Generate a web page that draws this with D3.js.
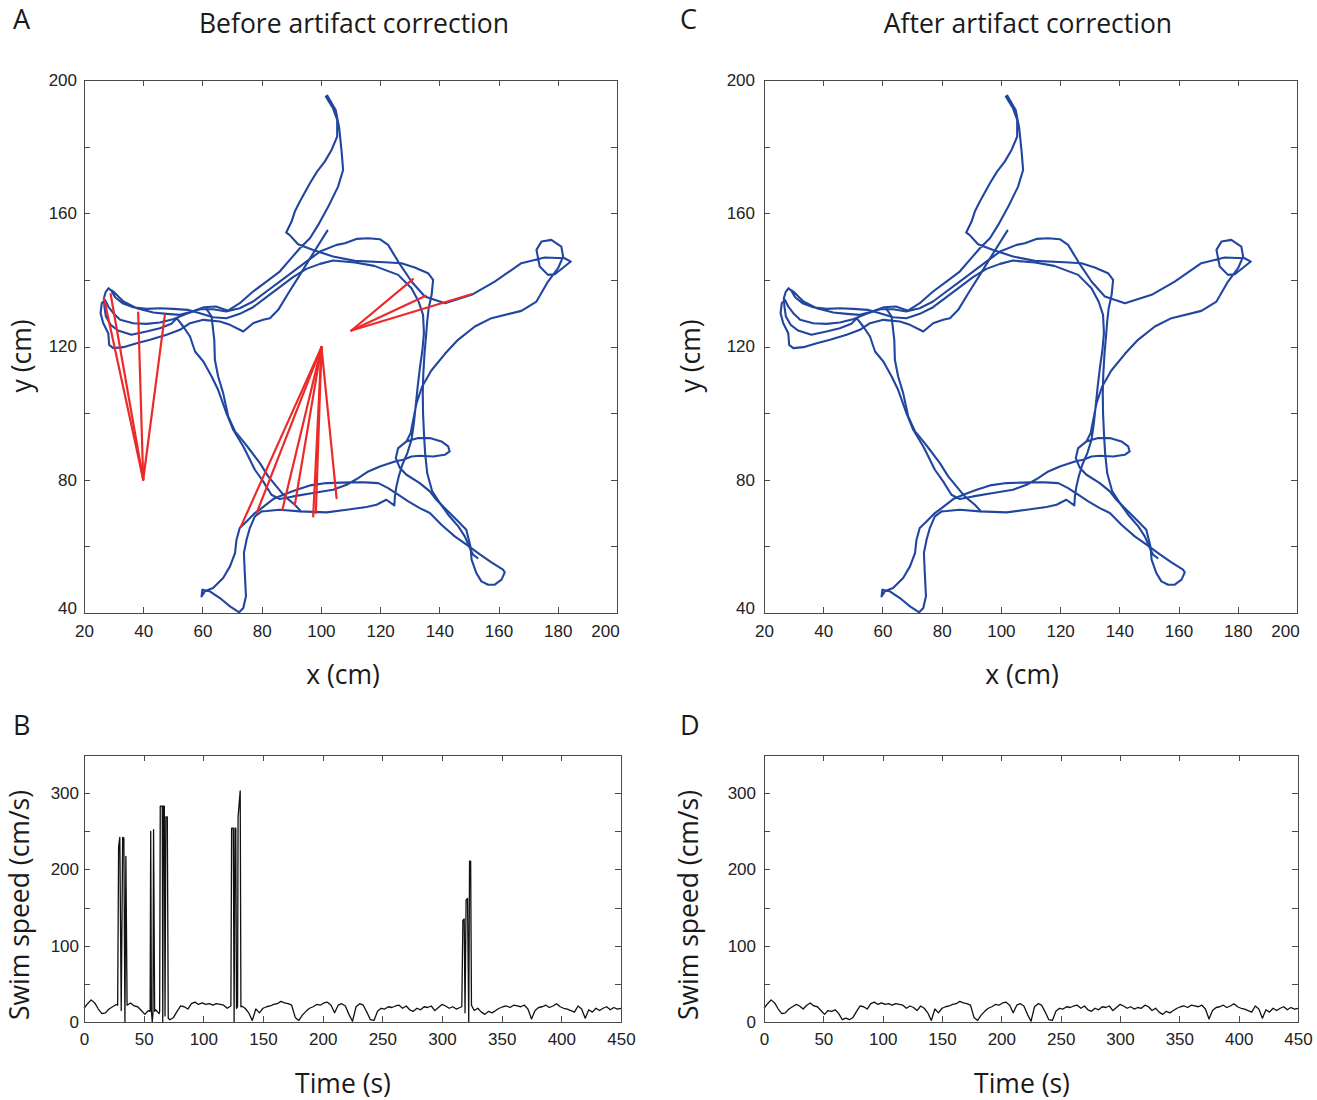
<!DOCTYPE html>
<html>
<head>
<meta charset="utf-8">
<script src="https://cdn.jsdelivr.net/npm/d3@7"></script>
<style>
  body { margin: 0; background: #fff; }
  svg { display: block; }
  .tick text { font-family: "Liberation Sans", Arial, sans-serif; font-size: 17px; fill: #222; }
  .lbl { font-family: "Open Sans", sans-serif; fill: #1a1a1a; }
</style>
</head>
<body>
<svg id="fig" width="1317" height="1100"></svg>
<script>
// ---------------- Swim path (x, y in cm) ----------------
// Outbound run: bottom-right stub, up the right side of the ring, top arm and back into the west cluster
const trackOut = [
  [152.9,56.5],[151.4,57.5],[150.3,59.5],[148.6,63],[146.4,66],[143,69.5],[140.2,73],[137.6,76.5],[135.9,82],
  [135.2,88],[134.8,94],[134.5,100],[134.4,106],[134.6,112],[135,118],[135.5,123],[135.9,127.5],[136.4,131.5],
  [137.4,135.5],[137.9,140],[136.2,142],[131.7,143.7],[127.2,145],[121.6,145.3],[111.5,145.7],[104.1,147],
  [97.4,149],[92.3,150.7],[89.4,153.5],[88.3,154.2],[90.1,157.5],[91.2,160.5],[92.9,163.5],[96.3,169],
  [98.7,172.5],[101.3,175.5],[103.6,179],[105.5,183],[105.5,188],[104.1,191.5],[101.7,195.0],[102.2,195.3],
  [105,191],[106.2,185.5],[107,178.5],[107.5,173],[105.8,168],[102.5,162],[99.1,156.5],[96.3,152.5],
  [92.9,149.5],[89.5,146],[86.1,142.5],[81.6,139.5],[77.1,136.5],[72.6,133],[68.1,130.5],[63.6,131.2],
  [59.1,131.2],[54.6,129.8],[50.1,128.2],[45.6,127.2],[41.1,126.8],[36.6,127],[32.2,128],[29.9,130],
  [28.2,132],[27.1,134],[26,133],[25.6,130],[26.5,127],[28.2,124],[28.5,120.5],[29.9,119.5],[33.3,119.8],
  [37.8,121],[42.3,122],[47.9,123.5],[52.4,125],[55.8,127],[60.3,128],[65.9,127.5],[69.3,126.5],[73.8,124.5],
  [77.1,127],[80.5,128],[82.8,128.5],[85.6,131],[89,136],[92.9,141.5],[97.4,148],[102.2,154.8]
];

// Long run: west cluster, north rim, east arm with its small loop, back through the ring,
// SE arm, SW arm, ring bottom, and the small loop east of the centre
const trackLoop = [
  [28.5,137.2],[29.9,136.5],[33.3,133.5],[37.8,131.5],[43.4,130.2],[48,129.8],[52.4,129.5],[56.5,130.5],
  [60.5,131.8],[64.5,132],[68.7,130.7],[72.6,131.5],[77.1,133.5],[81.6,136.5],[86.1,139.5],[90.6,142.5],
  [95.1,145.5],[99.7,148.5],[105.3,150.5],[108.1,151],[112,152.3],[116,152.5],[119.9,152.2],[122.7,150.5],
  [126.1,145.5],[130.6,139.5],[135.1,135],[141.9,133],[150.9,135.5],[158.7,139.5],[167.7,145],[175.6,146.7],
  [182.3,146.5],[184.4,145.5],[182.3,144],[179,141.7],[176.7,141.5],[173.9,144],[172.8,149],[174.5,151.5],
  [177.8,152],[181.2,150],[181.8,147],[180.1,143.5],[176.7,139.5],[172.8,133.5],[167.7,130.7],[157.6,128.5],
  [152,126],[146.3,122],[141.9,117.8],[137.3,112.8],[134.2,108],[132.3,103],[131.2,98],[130.3,94],
  [128.9,91.5],[126.1,89.5],[125.3,86.5],[126.7,83.5],[128.9,81.5],[133.4,79],[136.8,76.5],[139,74],
  [142.4,71],[145.8,68],[149.1,65],[150.5,60],[150.9,56],[152.5,52],[154.2,49.5],[156.5,48.5],[158.7,48.5],
  [161,50],[162.1,52.2],[161.5,53],[157.6,55.2],[153.1,58],[149.2,60.5],[145.2,63],[140.7,66.5],[136.8,70],
  [133.4,71.5],[129.5,73.5],[126.1,75.5],[122.7,77.5],[119.4,79],[114.9,79.2],[109.8,79.2],[101.9,79],
  [96.3,78.3],[91.8,77],[87.3,75.5],[83.9,74.2],[80,71.5],[77.7,70],[74.9,67.5],[72.6,65.5],[71.5,62],
  [71,58],[69.3,54],[67,50.5],[63.6,47.5],[60.8,46.5],[59.7,45],[60,47],[62.5,46.5],[65.9,44.5],[69.3,42],
  [72.4,40.2],[73.8,41.5],[74.7,45],[74.3,52],[74,58],[74.9,62],[76,65.5],[77.7,69],[80,70.5],[81.6,70.6],
  [86.1,71],[92.9,70.5],[101.9,70.2],[108.7,71],[115.4,71.8],[118.8,72.5],[122.1,74],[124.8,72.3],[125,75],
  [125.5,78],[126.3,81],[127.5,84.5],[129.2,88],[130.6,92],[131.4,97],[132,102],[132.7,108],[133.5,114],
  [134.3,119],[134.8,124],[134.5,129.5],[133,133.5],[130.6,137.5],[126.1,141.5],[118,144.2],[111.5,145.2],
  [104.1,145.8],[99.7,144.8],[95.1,143.3],[90.6,140.8],[86.1,137.8],[81.6,134.8],[77.1,131.8],[72.6,129.8],
  [68.1,128.5],[63.6,128.8],[59.1,130],[55,131],[50.1,131.3],[45.6,131.5],[41.1,131.3],[36.6,131.8],
  [33,133],[30.5,134.8],[29.2,136.8],[28.3,137.5],[27.3,136.3],[26.7,134.5],[26.9,132],[27.4,129],[29,126.5],
  [31.5,124.8],[36,123.5],[41.1,124.5],[45.6,125.5],[49.5,126.8],[51.3,128.5],[53.5,126],[55.8,123],
  [57.5,118.5],[60.3,115.5],[63.1,111],[65.3,107],[68.1,100],[70.4,95],[73.8,90],[75.5,87],[77.7,83],
  [80.5,79.5],[83.3,75.5],[86.1,74.2],[90.6,75],[97.4,76],[104.1,77],[108.7,78.5],[112.6,80.5],[116,82.5],
  [119.9,84],[125,85.5],[127.8,86],[130.6,87],[133.4,87.2],[137.9,87],[141.8,87.5],[143.5,88.5],[143,90],
  [140.7,91.5],[136.8,92.5],[132.8,92.5],[128.9,91.5]
];

// Second descent down the west side of the ring
const trackSide = [
  [61.4,131.2],[63.1,129],[63.6,125],[64,122],[64.2,116],[65.3,111],[67,106],[68.7,99],[71,94.5],
  [73.8,91.5],[76,89],[79.4,85],[82.2,81],[85,78],[87.8,75],[91.2,72.5],[93,70.8]
];

const trackSegments = [trackOut, trackLoop, trackSide];

// Tracking artifacts: the false position and the true positions that jump to it
const artifactPoints = [[40, 80], [100.2, 119.8], [110.3, 124.8]];
const artifactLinks = [
  [[26.75,134.5],[29,135.7],[38.3,130.2],[47.3,129.5]],
  [[73,66],[78.3,70],[87,71],[91.2,72.5],[97.4,69],[98.3,70],[105.3,74.5]],
  [[131.1,140.2],[135.4,135.2],[150.8,135.7]]
];

// ---------------- Swim speed (cm/s) ----------------
const cleanTime = [0,3,6,9,12,15,18,21,24,27,30,33,36,39,42,45,48,51,54,57,60,63,66,69,72,75,78,81,84,87,
  90,93,96,99,102,105,108,111,114,117,120,123,126,129,132,135,138,141,144,147,150,153,156,159,162,165,168,
  171,174,177,180,183,186,189,192,195,198,201,204,207,210,213,216,219,222,225,228,231,234,237,240,243,246,
  249,252,255,258,261,264,267,270,273,276,279,282,285,288,291,294,297,300,303,306,309,312,315,318,321,324,
  327,330,333,336,339,342,345,348,351,354,357,360,363,366,369,372,375,378,381,384,387,390,393,396,399,402,
  405,408,411,414,417,420,423,426,429,432,435,438,441,444,447,450];
const cleanSpeed = [18,24,29,25,17,11,12,17,20,23, 21,17,22,25,21,20,15,10,15,14, 16,11,3,5,3,6,14,21,20,17,
  24,26,23,25,23,24,22,24,23,22, 18,21,19,15,21,18,12,2,17,12, 18,20,21,23,24,27,25,24,22,6,
  2,9,14,18,20,23,22,25,26,22, 12,22,24,21,10,1,20,24,22,13, 3,2,14,18,17,20,19,21,22,18,
  21,16,14,18,16,20,19,21,15,19, 23,21,18,20,17,19,18,22,20,15, 18,13,10,14,12,15,18,20,21,19,
  22,21,20,22,17,4,15,19,20,22, 19,21,24,20,18,17,15,13,21,17, 5,16,13,18,15,18,20,16,19,17, 18];

// Samples recorded while the tracker jumped to an artifact
const artifactWindows = [[28.2,36.1],[55.4,59.2],[63.4,70.6],[123.1,131.5],[316.6,324.7]];
const spikeTime = [28.2,29.0,30.0,31.2,32.4,33.4,34.3,35.1,36.1,
  55.4,55.9,56.5,57.2,57.8,58.3,59.2,
  63.4,63.9,65.6,66.0,66.5,67.3,67.9,68.6,69.8,70.6,
  123.1,123.7,125.1,125.8,126.5,127.2,127.8,128.7,129.1,130.9,131.5,
  316.6,317.5,318.6,319.3,320.2,321.4,322.4,323.1,324.0,324.7];
const spikeSpeed = [22,230,242,15,242,241,0,217,22,
  14,250,14,0,12,252,14,
  14,283,283,0,283,283,8,269,269,5,
  22,254,254,0,254,254,18,20,268,303,20,
  20,133,135,12,160,162,0,211,211,22];

// Axis ticks
const posTicks = [20,40,60,80,100,120,140,160,180,200];
const posXLabels = [20,40,60,80,100,120,140,160,180,200];
const posYTicks = [40,60,80,100,120,140,160,180,200];
const posYLabels = [40,80,120,160,200];
const timeTicks = [0,50,100,150,200,250,300,350,400,450];
const speedTicks = [0,50,100,150,200,250,300,350];
const speedLabels = [0,100,200,300];

// ---------------- Drawing ----------------
const svg = d3.select("#fig");
const AXIS_COLOR = "#4a4a4a";
const BLUE = "#2146a0";
const RED = "#ec2a2a";

function drawAxes(g, x, y, w, h, cfg) {
  g.append("rect").attr("width", w).attr("height", h)
    .attr("fill", "none").attr("stroke", AXIS_COLOR).attr("stroke-width", 1)
    .attr("shape-rendering", "crispEdges");
  const tidy = s => {
    s.select(".domain").remove();
    s.style("color", AXIS_COLOR);
    s.selectAll(".tick line").attr("shape-rendering", "crispEdges");
  };
  const fx = d => cfg.xLabels.includes(d) ? d : "";
  const fy = d => cfg.yLabels.includes(d) ? d : "";
  const bottom = g.append("g").attr("transform", `translate(0,${h})`)
    .call(d3.axisBottom(x).tickValues(cfg.xTicks).tickSizeInner(-6).tickSizeOuter(0).tickPadding(cfg.xPad).tickFormat(fx))
    .call(tidy);
  g.append("g")
    .call(d3.axisTop(x).tickValues(cfg.xTicks).tickSizeInner(-6).tickSizeOuter(0).tickFormat(""))
    .call(tidy);
  const left = g.append("g")
    .call(d3.axisLeft(y).tickValues(cfg.yTicks).tickSizeInner(-6).tickSizeOuter(0).tickPadding(cfg.yPad).tickFormat(fy))
    .call(tidy);
  g.append("g").attr("transform", `translate(${w},0)`)
    .call(d3.axisRight(y).tickValues(cfg.yTicks).tickSizeInner(-6).tickSizeOuter(0).tickFormat(""))
    .call(tidy);
  if (cfg.lastXShift) {
    const last = cfg.xLabels[cfg.xLabels.length - 1];
    bottom.selectAll(".tick").filter(d => d === last).select("text").attr("dx", cfg.lastXShift);
  }
  if (cfg.firstYShift) {
    const first = cfg.yLabels[0];
    left.selectAll(".tick").filter(d => d === first).select("text").attr("y", cfg.firstYShift);
  }
}

function addText(str, x, y, size, opts = {}) {
  const t = svg.append("text").attr("class", "lbl")
    .attr("x", x).attr("y", y).attr("font-size", size)
    .attr("text-anchor", opts.anchor || "middle").text(str);
  if (opts.rotate) t.attr("transform", `rotate(-90,${x},${y})`);
  return t;
}

function pathPanel(left, top, withArtifacts, yPad) {
  const w = 533, h = 533;
  const g = svg.append("g").attr("transform", `translate(${left},${top})`);
  const x = d3.scaleLinear().domain([20, 200]).range([0, w]);
  const y = d3.scaleLinear().domain([40, 200]).range([h, 0]);
  const line = d3.line().x(d => x(d[0])).y(d => y(d[1])).curve(d3.curveLinear);
  g.selectAll("path.track").data(trackSegments).join("path").attr("class", "track")
    .attr("d", line).attr("fill", "none").attr("stroke", BLUE)
    .attr("stroke-width", 2.1).attr("stroke-linejoin", "round").attr("stroke-linecap", "round");
  if (withArtifacts) {
    const pairs = [];
    artifactPoints.forEach((p, i) => artifactLinks[i].forEach(q => pairs.push([q, p])));
    g.selectAll("path.artifact").data(pairs).join("path").attr("class", "artifact")
      .attr("d", line).attr("fill", "none").attr("stroke", RED)
      .attr("stroke-width", 2.2).attr("stroke-linejoin", "round").attr("stroke-linecap", "round");
  }
  drawAxes(g, x, y, w, h, {
    xTicks: posTicks, xLabels: posXLabels, yTicks: posYTicks, yLabels: posYLabels,
    xPad: 12, yPad, lastXShift: -12, firstYShift: -5
  });
}

function speedPanel(left, top, w, series, yPad) {
  const h = 267;
  const g = svg.append("g").attr("transform", `translate(${left},${top})`);
  const x = d3.scaleLinear().domain([0, 450]).range([0, w]);
  const y = d3.scaleLinear().domain([0, 350]).range([h, 0]);
  const line = d3.line().x(d => x(d[0])).y(d => y(d[1]));
  g.append("path").datum(series).attr("d", line)
    .attr("fill", "none").attr("stroke", "#111").attr("stroke-width", 1.3)
    .attr("stroke-linejoin", "round");
  drawAxes(g, x, y, w, h, {
    xTicks: timeTicks, xLabels: timeTicks, yTicks: speedTicks, yLabels: speedLabels, xPad: 11, yPad
  });
}

// Corrected speed trace and the raw trace with artifact samples spliced in
const cleanSeries = cleanTime.map((t, i) => [t, cleanSpeed[i]]);
const inArtifact = t => artifactWindows.some(([a, b]) => t > a && t < b);
const rawSeries = cleanSeries.filter(d => !inArtifact(d[0]))
  .concat(spikeTime.map((t, i) => [t, spikeSpeed[i]]))
  .sort((a, b) => a[0] - b[0]);

pathPanel(84, 80, true, 7);
pathPanel(764, 80, false, 9);
speedPanel(84, 755, 537, rawSeries, 5);
speedPanel(764, 755, 534, cleanSeries, 8);

// Titles, panel letters and axis titles
addText("Before artifact correction", 354, 33, 26.5);
addText("After artifact correction", 1028, 33, 26.5);
addText("A", 13, 29, 27, { anchor: "start" });
addText("C", 680, 29, 27, { anchor: "start" });
addText("B", 13, 735, 27, { anchor: "start" });
addText("D", 680, 735, 27, { anchor: "start" });
addText("x (cm)", 343, 684, 26.5);
addText("x (cm)", 1022, 684, 26.5);
addText("y (cm)", 31, 356, 26.5, { rotate: true });
addText("y (cm)", 700, 356, 26.5, { rotate: true });
addText("Time (s)", 343, 1093, 26.5);
addText("Time (s)", 1022, 1093, 26.5);
addText("Swim speed (cm/s)", 29, 905, 26.5, { rotate: true });
addText("Swim speed (cm/s)", 698, 905, 26.5, { rotate: true });
</script>
</body>
</html>
